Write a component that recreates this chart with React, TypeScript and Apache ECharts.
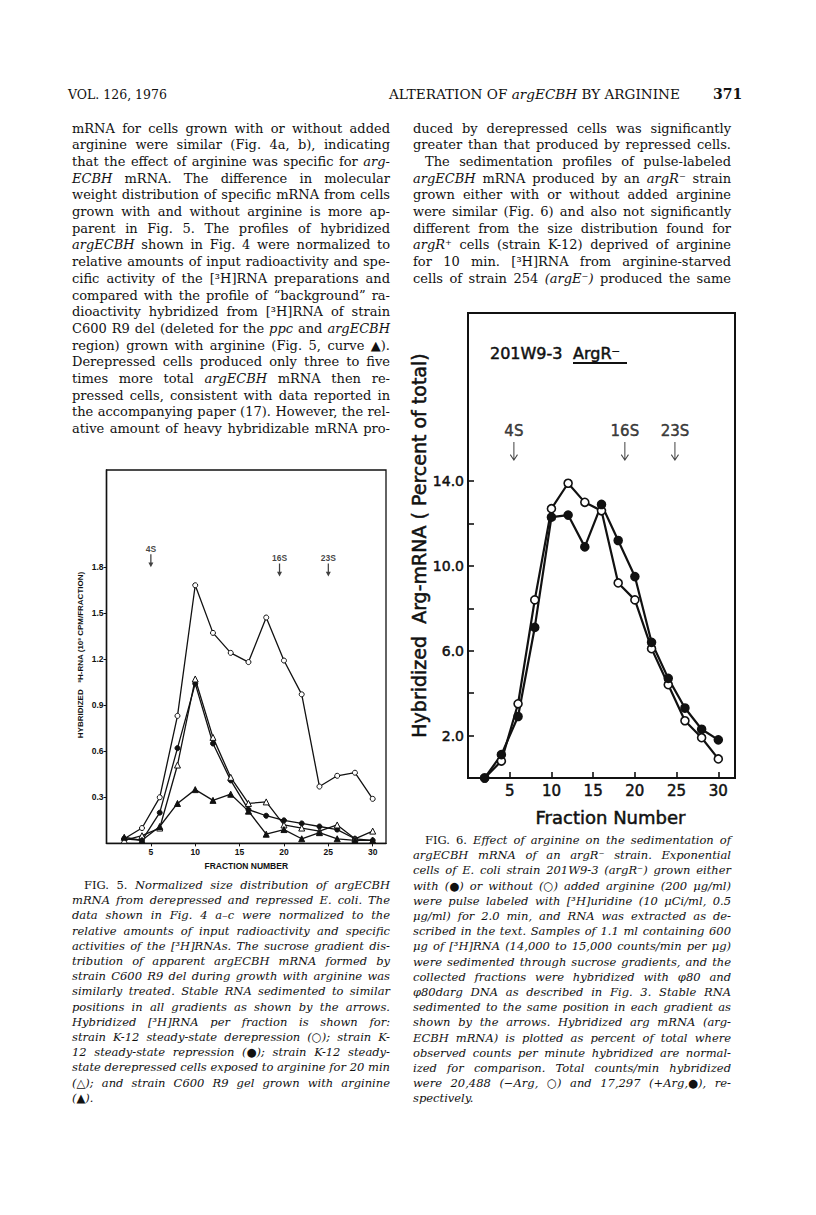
import React, { useEffect, useRef } from "react";
import * as echarts from "echarts";

// ---------------- Data ----------------
const fig5Fractions = [2, 4, 6, 8, 10, 12, 14, 16, 18, 20, 22, 24, 26, 28, 30];
const fig5Derepression = [0.03, 0.1, 0.3, 0.83, 1.68, 1.37, 1.24, 1.18, 1.47, 1.19, 0.97, 0.37, 0.44, 0.46, 0.29];
const fig5Repression = [0.03, 0.02, 0.2, 0.62, 1.04, 0.65, 0.41, 0.22, 0.18, 0.15, 0.13, 0.11, 0.09, 0.03, 0.02];
const fig5Exposed = [0.02, 0.05, 0.1, 0.51, 1.07, 0.69, 0.43, 0.26, 0.27, 0.12, 0.1, 0.08, 0.12, 0.03, 0.08];
const fig5Background = [0.04, 0.02, 0.11, 0.26, 0.35, 0.28, 0.32, 0.21, 0.06, 0.09, 0.03, 0.07, 0.03, 0.02, 0.02];
const fig5XLabels = [5, 10, 15, 20, 25, 30];
const fig5YLabels = [0.3, 0.6, 0.9, 1.2, 1.5, 1.8];
const fig5Markers = ["4S", "16S", "23S"];
const fig5MarkerFractions = [5, 19.5, 25];

const fig6Fractions = [2, 4, 6, 8, 10, 12, 14, 16, 18, 20, 22, 24, 26, 28, 30];
const fig6WithoutArg = [0, 0.8, 3.5, 8.4, 12.7, 13.9, 13.0, 12.6, 9.2, 8.4, 6.1, 4.4, 2.7, 1.9, 0.9];
const fig6WithArg = [0, 1.1, 2.9, 7.1, 12.3, 12.4, 10.9, 12.9, 11.2, 9.5, 6.4, 4.7, 3.3, 2.3, 1.8];
const fig6XLabels = [5, 10, 15, 20, 25, 30];
const fig6YTicks = [2, 4, 6, 8, 10, 12, 14];
const fig6YLabels = [2, 6, 10, 14];
const fig6Markers = ["4S", "16S", "23S"];
const fig6MarkerFractions = [5.5, 18.8, 24.8];

// ---------------- Page text ----------------
// "~" toggles italic for a word, ">" indents a line, "|" ends a paragraph (no justification)
const bodyLeft = [
  "mRNA for cells grown with or without added",
  "arginine were similar (Fig. 4a, b), indicating",
  "that the effect of arginine was specific for ~arg-",
  "~ECBH mRNA. The difference in molecular",
  "weight distribution of specific mRNA from cells",
  "grown with and without arginine is more ap-",
  "parent in Fig. 5. The profiles of hybridized",
  "~argECBH shown in Fig. 4 were normalized to",
  "relative amounts of input radioactivity and spe-",
  "cific activity of the [³H]RNA preparations and",
  "compared with the profile of “background” ra-",
  "dioactivity hybridized from [³H]RNA of strain",
  "C600 R9 del (deleted for the ~ppc and ~argECBH",
  "region) grown with arginine (Fig. 5, curve ▲).",
  "Derepressed cells produced only three to five",
  "times more total ~argECBH mRNA then re-",
  "pressed cells, consistent with data reported in",
  "the accompanying paper (17). However, the rel-",
  "ative amount of heavy hybridizable mRNA pro-",
];
const bodyRight = [
  "duced by derepressed cells was significantly",
  "greater than that produced by repressed cells.",
  ">The sedimentation profiles of pulse-labeled",
  "~argECBH mRNA produced by an ~argR⁻ strain",
  "grown either with or without added arginine",
  "were similar (Fig. 6) and also not significantly",
  "different from the size distribution found for",
  "~argR⁺ cells (strain K-12) deprived of arginine",
  "for 10 min. [³H]RNA from arginine-starved",
  "cells of strain 254 ~(argE⁻) produced the same",
];
const captionLeft = [
  ">~FIG. ~5. Normalized size distribution of argECBH",
  "mRNA from derepressed and repressed E. coli. The",
  "data shown in Fig. 4 a–c were normalized to the",
  "relative amounts of input radioactivity and specific",
  "activities of the [³H]RNAs. The sucrose gradient dis-",
  "tribution of apparent argECBH mRNA formed by",
  "strain C600 R9 del during growth with arginine was",
  "similarly treated. Stable RNA sedimented to similar",
  "positions in all gradients as shown by the arrows.",
  "Hybridized [³H]RNA per fraction is shown for:",
  "strain K-12 steady-state derepression (○); strain K-",
  "12 steady-state repression (●); strain K-12 steady-",
  "state derepressed cells exposed to arginine for 20 min",
  "(△); and strain C600 R9 gel grown with arginine",
  "(▲).|",
];
const captionRight = [
  ">~FIG. ~6. Effect of arginine on the sedimentation of",
  "argECBH mRNA of an argR⁻ strain. Exponential",
  "cells of E. coli strain 201W9-3 (argR⁻) grown either",
  "with (●) or without (○) added arginine (200 μg/ml)",
  "were pulse labeled with [³H]uridine (10 μCi/ml, 0.5",
  "μg/ml) for 2.0 min, and RNA was extracted as de-",
  "scribed in the text. Samples of 1.1 ml containing 600",
  "μg of [³H]RNA (14,000 to 15,000 counts/min per μg)",
  "were sedimented through sucrose gradients, and the",
  "collected fractions were hybridized with φ80 and",
  "φ80darg DNA as described in Fig. 3. Stable RNA",
  "sedimented to the same position in each gradient as",
  "shown by the arrows. Hybridized arg mRNA (arg-",
  "ECBH mRNA) is plotted as percent of total where",
  "observed counts per minute hybridized are normal-",
  "ized for comparison. Total counts/min hybridized",
  "were 20,488 (−Arg, ○) and 17,297 (+Arg,●), re-",
  "spectively.|",
];

const SERIF = "DejaVu Serif";
const SANS = "DejaVu Sans";
const INK = "#111";

function justifyBlock(
  lines: string[],
  x0: number,
  y0: number,
  width: number,
  lh: number,
  size: number,
  baseItalic: boolean
) {
  const ctx = document.createElement("canvas").getContext("2d") as CanvasRenderingContext2D;
  const fontOf = (it: boolean, s: number) => `${it ? "italic " : ""}${s}px "${SERIF}"`;
  const els: any[] = [];
  lines.forEach((raw, i) => {
    let line = raw;
    let indent = 0;
    let justify = true;
    if (line.startsWith(">")) {
      indent = 12;
      line = line.slice(1);
    }
    if (line.endsWith("|")) {
      justify = false;
      line = line.slice(0, -1);
    }
    const toks = line
      .split(" ")
      .filter((t) => t.length > 0)
      .map((t) => {
        const alt = t.startsWith("~");
        return { text: alt ? t.slice(1) : t, italic: alt ? !baseItalic : baseItalic };
      });
    let s = size;
    let ws = toks.map((t) => {
      ctx.font = fontOf(t.italic, s);
      return ctx.measureText(t.text).width;
    });
    ctx.font = fontOf(baseItalic, s);
    const sp = ctx.measureText(" ").width;
    const W = width - indent;
    let sum = ws.reduce((a, b) => a + b, 0);
    const n = toks.length;
    let gap = sp;
    const minGap = sp * 0.55;
    if (sum + minGap * (n - 1) > W) {
      const k = (W - minGap * (n - 1)) / sum;
      s = s * k;
      ws = ws.map((w) => w * k);
      sum = sum * k;
    }
    if (justify && n > 1) gap = (W - sum) / (n - 1);
    else gap = Math.max(minGap, Math.min(sp, n > 1 ? (W - sum) / (n - 1) : sp));
    let x = x0 + indent;
    const y = y0 + i * lh;
    toks.forEach((t, j) => {
      els.push({
        type: "text",
        x,
        y,
        silent: true,
        style: {
          text: t.text,
          fontSize: s,
          fontFamily: SERIF,
          fontStyle: t.italic ? "italic" : "normal",
          fill: INK,
          verticalAlign: "middle",
          textVerticalAlign: "middle",
        },
      });
      x += ws[j] + gap;
    });
  });
  return els;
}

const arrowBig = "path://M4.4,0 L5.6,0 L5.6,17.5 L8.8,13 L9.8,13.8 L5,20 L0.2,13.8 L1.2,13 L4.4,17.5 Z";
const arrowSmall = "path://M1.5,0 L2.5,0 L2.5,9 L4,9 L2,14 L0,9 L1.5,9 Z";

export default function App() {
  const ref = useRef<HTMLDivElement>(null);
  useEffect(() => {
    if (!ref.current) return;
    const chart = echarts.init(ref.current, undefined, { renderer: "svg" });

    const pairs = (xs: number[], ys: number[]) => xs.map((x, i) => [x, ys[i]]);
    const fig5Line = (name: string, ys: number[], symbol: string, filled: boolean) => ({
      type: "line",
      name,
      xAxisIndex: 0,
      yAxisIndex: 0,
      data: pairs(fig5Fractions, ys),
      symbol,
      symbolSize: symbol === "triangle" ? 6 : 5,
      showSymbol: true,
      clip: false,
      lineStyle: { color: INK, width: 1.3 },
      itemStyle: { color: filled ? INK : "#fff", borderColor: INK, borderWidth: 1 },
      emphasis: { disabled: true },
    });
    const fig6Line = (name: string, ys: number[], filled: boolean) => ({
      type: "line",
      name,
      xAxisIndex: 1,
      yAxisIndex: 1,
      data: pairs(fig6Fractions, ys),
      symbol: "circle",
      symbolSize: 8,
      showSymbol: true,
      clip: false,
      lineStyle: { color: INK, width: 2.2 },
      itemStyle: { color: filled ? INK : "#fff", borderColor: INK, borderWidth: 1.6 },
      emphasis: { disabled: true },
    });
    const bold6 = { textBorderColor: INK, textBorderWidth: 0.5 };
    const boldG = { stroke: INK, lineWidth: 0.5 };

    const graphics: any[] = [
      // running heads
      {
        type: "text",
        x: 68,
        y: 94,
        style: { text: "VOL. 126, 1976", fontSize: 12.5, fontFamily: SERIF, fill: INK, verticalAlign: "middle", textVerticalAlign: "middle" },
      },
      {
        type: "text",
        x: 389,
        y: 94,
        style: {
          text: "{a|ALTERATION OF }{b|argECBH}{a| BY ARGININE}",
          fill: INK,
          verticalAlign: "middle",
          textVerticalAlign: "middle",
          rich: {
            a: { fontSize: 13.6, fontFamily: SERIF, fill: INK },
            b: { fontSize: 13.6, fontFamily: SERIF, fontStyle: "italic", fill: INK },
          },
        },
      },
      {
        type: "text",
        x: 713,
        y: 94,
        style: { text: "371", fontSize: 14, fontWeight: "bold", fontFamily: SERIF, fill: INK, verticalAlign: "middle", textVerticalAlign: "middle" },
      },
      ...justifyBlock(bodyLeft, 72, 128, 318, 16.7, 13, false),
      ...justifyBlock(bodyRight, 413, 128, 318, 16.7, 13, false),
      ...justifyBlock(captionLeft, 72, 885, 318, 15.2, 11.5, true),
      ...justifyBlock(captionRight, 413, 840, 318, 15.2, 11.5, true),
      // Fig. 5 y-axis title
      {
        type: "text",
        x: 80,
        y: 655,
        rotation: Math.PI / 2,
        style: {
          text: "HYBRIDIZED   ³H-RNA (10³ CPM/FRACTION)",
          fontSize: 8,
          fontWeight: "bold",
          fontFamily: "Liberation Sans",
          fill: INK,
          align: "center",
          textAlign: "center",
          verticalAlign: "middle",
          textVerticalAlign: "middle",
        },
      },
      // Fig. 6 strain label
      {
        type: "text",
        x: 490,
        y: 353,
        style: { text: "201W9-3", fontSize: 16, fontFamily: SANS, fill: INK, verticalAlign: "middle", textVerticalAlign: "middle", ...boldG },
      },
      {
        type: "text",
        x: 573,
        y: 353,
        style: { text: "ArgR⁻", fontSize: 16, fontFamily: SANS, fill: INK, verticalAlign: "middle", textVerticalAlign: "middle", ...boldG },
      },
      {
        type: "line",
        shape: { x1: 573, y1: 363, x2: 627, y2: 363 },
        style: { stroke: INK, lineWidth: 1.8 },
      },
    ];

    const option: any = {
      animation: false,
      backgroundColor: "#fff",
      grid: [
        { left: 106.5, top: 470, width: 279.5, height: 373.4, show: true, borderColor: INK, borderWidth: 1.3, backgroundColor: "transparent" },
        { left: 468, top: 313, width: 267, height: 465, show: true, borderColor: INK, borderWidth: 2, backgroundColor: "transparent" },
      ],
      xAxis: [
        {
          type: "value",
          gridIndex: 0,
          min: 0,
          max: 31.5,
          interval: 5,
          name: "FRACTION NUMBER",
          nameLocation: "middle",
          nameGap: 18,
          nameTextStyle: { fontSize: 8.5, fontWeight: "bold", fontFamily: "Liberation Sans", color: INK },
          axisLine: { lineStyle: { color: INK, width: 1.4 } },
          axisTick: { show: true, length: 3, customValues: fig5XLabels, lineStyle: { color: INK, width: 1 } },
          axisLabel: { customValues: fig5XLabels, fontSize: 8.5, fontWeight: "bold", fontFamily: "Liberation Sans", color: INK, margin: 4 },
          splitLine: { show: false },
        },
        {
          type: "value",
          gridIndex: 1,
          min: 0,
          max: 32,
          interval: 5,
          name: "Fraction Number",
          nameLocation: "middle",
          nameGap: 30,
          nameTextStyle: { fontSize: 18, fontFamily: SANS, color: INK, padding: [0, 0, 0, 18], ...bold6 },
          axisLine: { lineStyle: { color: INK, width: 2 } },
          axisTick: { show: true, inside: true, length: 6, customValues: fig6XLabels, lineStyle: { color: INK, width: 1.6 } },
          axisLabel: { customValues: fig6XLabels, fontSize: 15, fontFamily: SANS, color: INK, margin: 5, ...bold6 },
          splitLine: { show: false },
        },
      ],
      yAxis: [
        {
          type: "value",
          gridIndex: 0,
          min: 0,
          max: 2.43,
          interval: 0.3,
          axisLine: { show: true, lineStyle: { color: INK, width: 1.4 } },
          axisTick: { show: true, length: 3, customValues: fig5YLabels, lineStyle: { color: INK, width: 1 } },
          axisLabel: {
            customValues: fig5YLabels,
            formatter: (v: number) => v.toFixed(1),
            fontSize: 8.5,
            fontWeight: "bold",
            fontFamily: "Liberation Sans",
            color: INK,
            margin: 3,
          },
          splitLine: { show: false },
        },
        {
          type: "value",
          gridIndex: 1,
          min: 0,
          max: 21.93,
          interval: 2,
          name: "Hybridized  Arg-mRNA ( Percent of total)",
          nameLocation: "middle",
          nameGap: 38,
          nameTextStyle: { fontSize: 19, fontFamily: SANS, color: INK, ...bold6 },
          axisLine: { show: true, lineStyle: { color: INK, width: 2 } },
          axisTick: { show: true, inside: true, length: 6, customValues: fig6YTicks, lineStyle: { color: INK, width: 1.6 } },
          axisLabel: {
            customValues: fig6YLabels,
            formatter: (v: number) => v.toFixed(1),
            fontSize: 14,
            fontFamily: SANS,
            color: INK,
            margin: 4,
            ...bold6,
          },
          splitLine: { show: false },
        },
      ],
      series: [
        fig5Line("Derepression (○)", fig5Derepression, "circle", false),
        fig5Line("Repression (●)", fig5Repression, "circle", true),
        fig5Line("Exposed to arginine 20 min (△)", fig5Exposed, "triangle", false),
        fig5Line("C600 R9 del (▲)", fig5Background, "triangle", true),
        {
          type: "scatter",
          xAxisIndex: 0,
          yAxisIndex: 0,
          clip: false,
          silent: true,
          symbol: arrowSmall,
          symbolSize: [5, 13],
          itemStyle: { color: INK },
          data: fig5MarkerFractions.map((f, i) => ({ value: [f, i === 0 ? 1.84 : 1.78], name: fig5Markers[i] })),
          label: {
            show: true,
            position: "top",
            distance: 1,
            formatter: "{b}",
            fontSize: 8.5,
            fontWeight: "bold",
            fontFamily: "Liberation Sans",
            color: INK,
          },
        },
        fig6Line("−Arg (○)", fig6WithoutArg, false),
        fig6Line("+Arg (●)", fig6WithArg, true),
        {
          type: "scatter",
          xAxisIndex: 1,
          yAxisIndex: 1,
          clip: false,
          silent: true,
          symbol: arrowBig,
          symbolSize: [8, 19],
          itemStyle: { color: INK },
          data: fig6MarkerFractions.map((f, i) => ({ value: [f, 15.4], name: fig6Markers[i] })),
          label: {
            show: true,
            position: "top",
            distance: 3,
            formatter: "{b}",
            fontSize: 15,
            fontFamily: SANS,
            color: INK,
            ...bold6,
          },
        },
      ],
      graphic: graphics,
    };
    chart.setOption(option);
    return () => chart.dispose();
  }, []);
  return (
    <div
      ref={ref}
      style={{ position: "absolute", left: 0, top: 0, width: 816, height: 1215, background: "#fff" }}
    />
  );
}
